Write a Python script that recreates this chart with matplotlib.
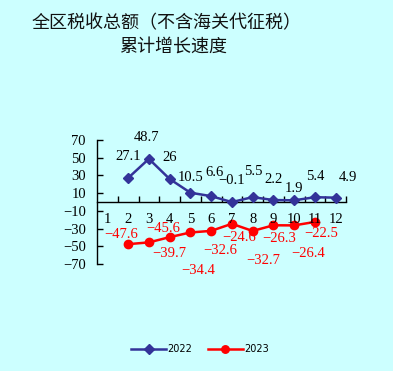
import matplotlib
matplotlib.use("Agg")
import matplotlib.pyplot as plt

months = [1, 2, 3, 4, 5, 6, 7, 8, 9, 10, 11, 12]
months_2022 = [2, 3, 4, 5, 6, 7, 8, 9, 10, 11, 12]
growth_2022 = [27.1, 48.7, 26, 10.5, 6.6, -0.1, 5.5, 2.2, 1.9, 5.4, 4.9]
months_2023 = [2, 3, 4, 5, 6, 7, 8, 9, 10, 11]
growth_2023 = [-47.6, -45.6, -39.7, -34.4, -32.6, -24.6, -32.7, -26.3, -26.4, -22.5]
yticks = [70, 50, 30, 10, -10, -30, -50, -70]

# label offsets in pixels (dx, dy)
off_2022 = [(0, 21), (-2, 21), (0, 21), (0, 15), (3, 24), (0, 22), (1, 26), (0, 21), (0, 12), (0, 21), (12, 20)]
off_2023 = [(-7, 10), (14, 14), (0, -16), (8, -38), (9, -20), (7, -14), (11, -30), (6, -13), (14, -28), (6, -12)]

bg = '#CCFFFF'
num_font = 'Liberation Serif'
fs = 10.5

fig = plt.figure(figsize=(3.93, 3.71), dpi=100, facecolor=bg)
ax = fig.add_axes([97 / 393, 1 - 264 / 371, 249 / 393, 124 / 371])
ax.set_facecolor(bg)

ax.plot(months_2022, growth_2022, color='#333399', lw=1.8, marker='D', ms=5.5,
        label='2022', zorder=3)
ax.plot(months_2023, growth_2023, color='#FF0000', lw=1.8, marker='o', ms=6,
        label='2023', zorder=3)

def fmt(v):
    return f"{v:g}".replace('-', '−')

for m, v, (dx, dy) in zip(months_2022, growth_2022, off_2022):
    ax.annotate(fmt(v), (m, v), xytext=(dx, dy), textcoords='offset pixels',
                ha='center', va='center', fontsize=fs, family=num_font, color='black')
for m, v, (dx, dy) in zip(months_2023, growth_2023, off_2023):
    ax.annotate(fmt(v), (m, v), xytext=(dx, dy), textcoords='offset pixels',
                ha='center', va='center', fontsize=fs, family=num_font, color='#FF0000')

ax.set_xlim(0.5, 12.5)
ax.set_ylim(-70, 70)
for s in ['top', 'right']:
    ax.spines[s].set_visible(False)
ax.spines['bottom'].set_position(('data', 0))
ax.spines['left'].set_linewidth(1)
ax.spines['bottom'].set_linewidth(1)

ax.set_yticks(yticks)
ax.set_yticklabels([fmt(t) for t in yticks], family=num_font, fontsize=fs)
ax.tick_params(axis='y', direction='in', length=4, pad=8, width=1)

ax.set_xticks([m + 0.5 for m in months])
ax.set_xticklabels([])
ax.tick_params(axis='x', direction='in', length=4, width=1)
for m in months:
    ax.text(m, -19.5, str(m), ha='center', va='center',
            fontsize=fs, family=num_font)

fig.text(167 / 393, 1 - 23 / 371, '全区税收总额（不含海关代征税）', ha='center', va='center',
         fontsize=13, family=['Noto Sans CJK SC', 'DejaVu Sans'], color='#111111')
fig.text(173 / 393, 1 - 47 / 371, '累计增长速度', ha='center', va='center',
         fontsize=13, family=['Noto Sans CJK SC', 'DejaVu Sans'], color='#111111')

leg = fig.legend(loc='center', bbox_to_anchor=(200 / 393, 1 - 349 / 371), ncol=2,
                 frameon=False, fontsize=7, handlelength=3.6, handletextpad=0.1,
                 columnspacing=1.6, markerscale=0.9)

fig.savefig('out.png', dpi=100, facecolor=bg)
